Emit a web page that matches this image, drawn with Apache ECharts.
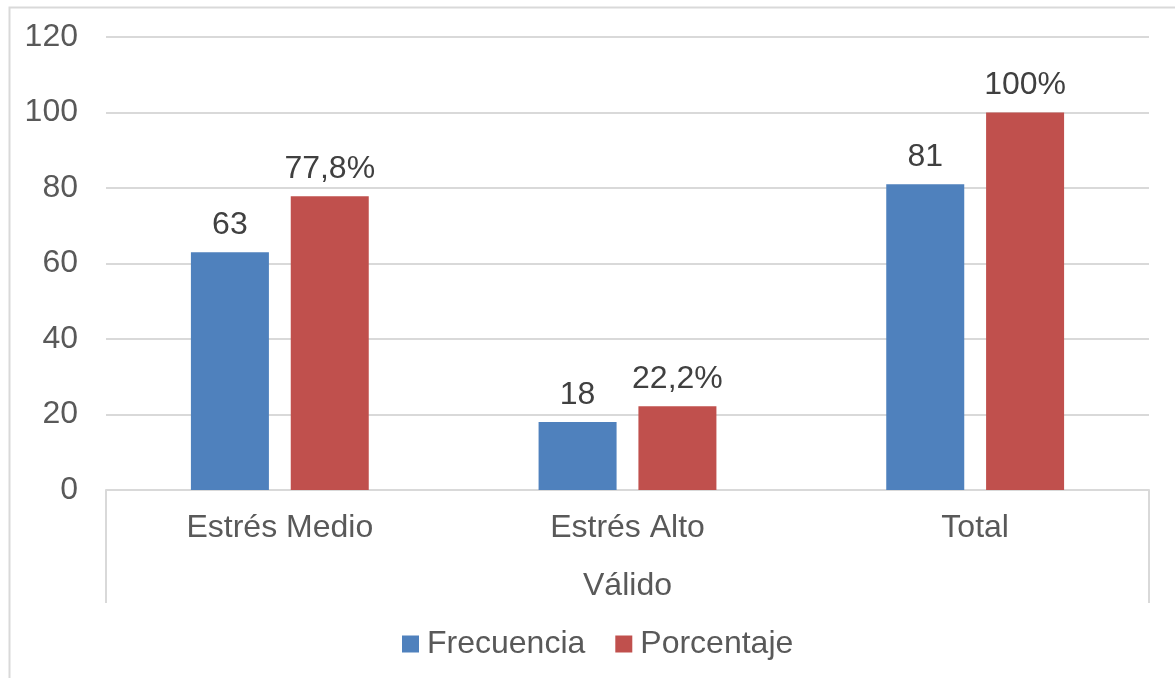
<!DOCTYPE html>
<html>
<head>
<meta charset="utf-8">
<script src="https://cdn.jsdelivr.net/npm/echarts@6/dist/echarts.min.js"></script>
<style>
html,body{margin:0;padding:0;background:#fff;}
#c{width:1175px;height:678px;}
</style>
</head>
<body>
<div id="c"></div>
<script>
const categories = ['Estrés Medio', 'Estrés Alto', 'Total'];
const groupLabel = ['Válido'];
const frecuencia = [63, 18, 81];
const porcentaje = [77.8, 22.2, 100];
const porcentajeLabels = ['77,8%', '22,2%', '100%'];
const yTicks = [0, 20, 40, 60, 80, 100, 120];

const txt = '#595959';
const font = 'Liberation Sans, Arial, sans-serif';
const fs = 32;
const chart = echarts.init(document.getElementById('c'));
chart.setOption({
  animation: false,
  backgroundColor: '#fff',
  textStyle: { fontFamily: font },
  graphic: [{
    type: 'rect', left: 7, top: 5,
    shape: { width: 1200, height: 700 },
    style: { fill: 'none', stroke: '#d9d9d9', lineWidth: 2 }, silent: true
  }],
  grid: { left: 106, right: 26, top: 37, bottom: 188 },
  legend: {
    bottom: 13, left: 397, itemWidth: 17, itemHeight: 17, itemGap: 30,
    icon: 'rect',
    textStyle: { color: txt, fontSize: fs, fontFamily: font, padding: [0, 0, 0, 3] },
    data: ['Frecuencia', 'Porcentaje']
  },
  xAxis: [{
    type: 'category', data: categories, position: 'bottom',
    axisLine: { lineStyle: { color: '#d9d9d9', width: 2 } },
    axisTick: { show: false },
    axisLabel: { color: txt, fontSize: fs, fontFamily: font, margin: 22 }
  }, {
    type: 'category', data: groupLabel, position: 'bottom',
    axisLine: { show: false },
    axisTick: { show: true, length: 113, lineStyle: { color: '#d9d9d9', width: 2 } },
    axisLabel: { color: txt, fontSize: fs, fontFamily: font, margin: 80 }
  }],
  yAxis: {
    type: 'value', min: yTicks[0], max: yTicks[yTicks.length - 1], interval: 20,
    axisLine: { show: false }, axisTick: { show: false },
    axisLabel: { color: txt, fontSize: fs, fontFamily: font, margin: 28 },
    splitLine: { lineStyle: { color: '#d9d9d9', width: 2 } }
  },
  series: [{
    name: 'Frecuencia', type: 'bar', data: frecuencia, xAxisIndex: 0,
    barWidth: 78, barGap: '28%',
    itemStyle: { color: '#4f81bd' },
    label: { show: true, position: 'top', distance: 11, color: '#404040', fontSize: fs, fontFamily: font }
  }, {
    name: 'Porcentaje', type: 'bar', data: porcentaje, xAxisIndex: 0,
    barWidth: 78,
    itemStyle: { color: '#c0504d' },
    label: { show: true, position: 'top', distance: 11, color: '#404040', fontSize: fs, fontFamily: font,
      formatter: p => porcentajeLabels[p.dataIndex] }
  }]
});
</script>
</body>
</html>
